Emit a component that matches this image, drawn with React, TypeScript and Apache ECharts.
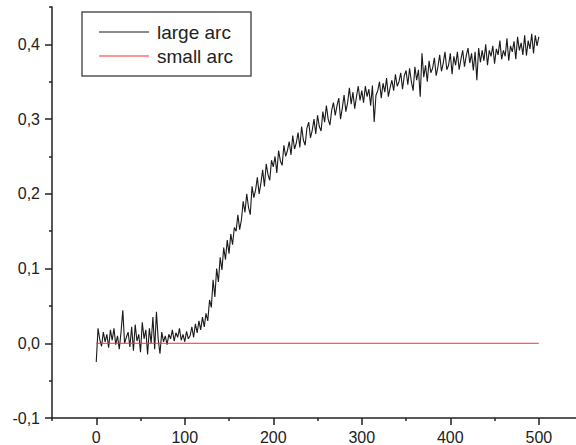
import React, { useEffect, useRef } from "react";
import * as echarts from "echarts";

// x of the large-arc samples: start and step
const largeArcStartX = 0;
const largeArcStepX = 2;
// values, one every 2 units of x (0..500)
const largeArcValues = [
  -0.025, 0.02, 0.005, -0.004, 0.015, 0.002, 0.012, -0.006, 0.018, 0.004,
  0.02, -0.002, 0.01, -0.008, 0.015, 0.044, 0.0, 0.008, 0.015, -0.005,
  0.022, -0.01, 0.025, 0.003, 0.012, -0.012, 0.028, 0.006, 0.018, -0.015,
  0.02, 0.0, 0.035, -0.008, 0.042, 0.005, -0.014, 0.015, 0.002, 0.01,
  -0.002, 0.012, 0.006, 0.018, 0.003, 0.014, 0.008, 0.02, 0.004, 0.012,
  0.002, 0.016, 0.006, 0.01, 0.022, 0.008, 0.026, 0.014, 0.03, 0.018,
  0.035, 0.022, 0.04, 0.03, 0.058, 0.048, 0.085, 0.062, 0.1, 0.082,
  0.115, 0.098, 0.128, 0.112, 0.138, 0.12, 0.146, 0.132, 0.155, 0.15,
  0.172, 0.152, 0.165, 0.19, 0.175, 0.2, 0.182, 0.172, 0.21, 0.195,
  0.205, 0.222, 0.2, 0.214, 0.232, 0.21, 0.24, 0.226, 0.218, 0.245,
  0.236, 0.25, 0.228, 0.258, 0.244, 0.238, 0.265, 0.25, 0.258, 0.27,
  0.252, 0.278, 0.26, 0.268, 0.282, 0.262, 0.29, 0.272, 0.265, 0.288,
  0.296, 0.275, 0.285, 0.3, 0.28, 0.305, 0.29, 0.284, 0.31, 0.296,
  0.318, 0.3, 0.292, 0.312, 0.322, 0.305, 0.318, 0.328, 0.3, 0.315,
  0.332, 0.31, 0.322, 0.342, 0.32, 0.336, 0.314, 0.33, 0.344, 0.325,
  0.338, 0.322, 0.344, 0.33, 0.34, 0.318, 0.345, 0.296, 0.332, 0.338,
  0.35, 0.328, 0.348, 0.336, 0.355, 0.33, 0.342, 0.352, 0.338, 0.36,
  0.344, 0.35, 0.362, 0.34, 0.358, 0.365, 0.346, 0.368, 0.35, 0.338,
  0.37, 0.352, 0.366, 0.33, 0.388, 0.356, 0.372, 0.35, 0.378, 0.362,
  0.368, 0.382, 0.358, 0.37, 0.386, 0.364, 0.375, 0.39, 0.366, 0.372,
  0.388, 0.36, 0.384, 0.372, 0.39, 0.366, 0.38, 0.392, 0.37, 0.385,
  0.395, 0.375, 0.388, 0.365, 0.39, 0.352, 0.395, 0.376, 0.392, 0.378,
  0.4, 0.372, 0.392, 0.384, 0.398, 0.374, 0.394, 0.386, 0.405, 0.38,
  0.392, 0.384, 0.408, 0.378, 0.398, 0.39, 0.404, 0.38, 0.41, 0.392,
  0.402, 0.386, 0.412, 0.385, 0.405, 0.394, 0.414, 0.388, 0.412, 0.398,
  0.41,
];
const smallArcX = [0, 500];
const smallArcValues = [0, 0];

const seriesNames = ["large arc", "small arc"];
const xMajorTicks = [0, 100, 200, 300, 400, 500];
const xMinorTicks = [-50, 50, 150, 250, 350, 450];
const yMajorTicks = [-0.1, 0, 0.1, 0.2, 0.3, 0.4];
const yMinorTicks = [-0.05, 0.05, 0.15, 0.25, 0.35, 0.45];

const FONT = "'Liberation Sans', Arial, Helvetica, sans-serif";
const AXIS_COLOR = "#222";
const LARGE_COLOR = "#1a1a1a";
const SMALL_COLOR = "#ff2a2a";

export default function App() {
  const ref = useRef<HTMLDivElement>(null);
  useEffect(() => {
    if (!ref.current) return;
    const chart = echarts.init(ref.current, undefined, { renderer: "svg" });
    const largeData = largeArcValues.map((v, i) => [largeArcStartX + i * largeArcStepX, v]);
    const smallData = smallArcX.map((x, i) => [x, smallArcValues[i]]);
    const fmt = (v: number) => v.toFixed(1).replace(".", ",");
    const fmtX = (v: number) => String(Math.round(v));
    const baseX = {
      type: "value" as const,
      min: -50,
      max: 542,
      splitLine: { show: false },
    };
    const baseY = {
      type: "value" as const,
      min: -0.1,
      max: 0.45,
      splitLine: { show: false },
    };
    chart.setOption({
      animation: false,
      backgroundColor: "#fff",
      textStyle: { fontFamily: FONT },
      grid: { left: 52, right: 0, top: 7, bottom: 27, containLabel: false },
      legend: {
        show: true,
        data: [
          { name: seriesNames[0], icon: "rect", itemStyle: { color: LARGE_COLOR } },
          { name: seriesNames[1], icon: "rect", itemStyle: { color: SMALL_COLOR } },
        ],
        orient: "vertical",
        left: 82,
        top: 12,
        width: 170,
        padding: [10, 18, 10, 17],
        itemWidth: 50,
        itemHeight: 1.2,
        itemGap: 4,
        borderColor: "#555",
        borderWidth: 1.5,
        backgroundColor: "#fff",
        textStyle: { fontFamily: FONT, fontSize: 19, color: "#222", padding: [0, 0, 0, 3], lineHeight: 20 },
      },
      xAxis: [
        {
          ...baseX,
          position: "bottom",
          axisLine: { show: true, onZero: false, lineStyle: { color: AXIS_COLOR, width: 1.5 } },
          axisTick: { show: true, customValues: xMajorTicks, length: 7, lineStyle: { color: AXIS_COLOR, width: 1.5 } },
          axisLabel: { show: true, customValues: xMajorTicks, formatter: fmtX, fontSize: 16, color: "#222", margin: 11, fontFamily: FONT },
        },
        {
          ...baseX,
          position: "bottom",
          axisLine: { show: false, onZero: false },
          axisTick: { show: true, customValues: xMinorTicks, length: 3, lineStyle: { color: AXIS_COLOR, width: 1.5 } },
          axisLabel: { show: false },
        },
      ],
      yAxis: [
        {
          ...baseY,
          position: "left",
          axisLine: { show: true, onZero: false, lineStyle: { color: AXIS_COLOR, width: 1.5 } },
          axisTick: { show: true, customValues: yMajorTicks, length: 7, lineStyle: { color: AXIS_COLOR, width: 1.5 } },
          axisLabel: { show: true, customValues: yMajorTicks, formatter: fmt, fontSize: 16, color: "#222", margin: 12, fontFamily: FONT },
        },
        {
          ...baseY,
          position: "left",
          axisLine: { show: false, onZero: false },
          axisTick: { show: true, customValues: yMinorTicks, length: 3, lineStyle: { color: AXIS_COLOR, width: 1.5 } },
          axisLabel: { show: false },
        },
      ],
      series: [
        {
          name: seriesNames[0],
          type: "line",
          data: largeData,
          symbol: "none",
          showSymbol: false,
          lineStyle: { color: LARGE_COLOR, width: 1.1 },
          itemStyle: { color: LARGE_COLOR },
          xAxisIndex: 0,
          yAxisIndex: 0,
        },
        {
          name: seriesNames[1],
          type: "line",
          data: smallData,
          symbol: "none",
          showSymbol: false,
          lineStyle: { color: SMALL_COLOR, width: 1 },
          itemStyle: { color: SMALL_COLOR },
          xAxisIndex: 0,
          yAxisIndex: 0,
        },
      ],
    });
    return () => chart.dispose();
  }, []);
  return (
    <div
      ref={ref}
      style={{ position: "fixed", left: 0, top: 0, width: 576, height: 445, background: "#fff" }}
    />
  );
}
